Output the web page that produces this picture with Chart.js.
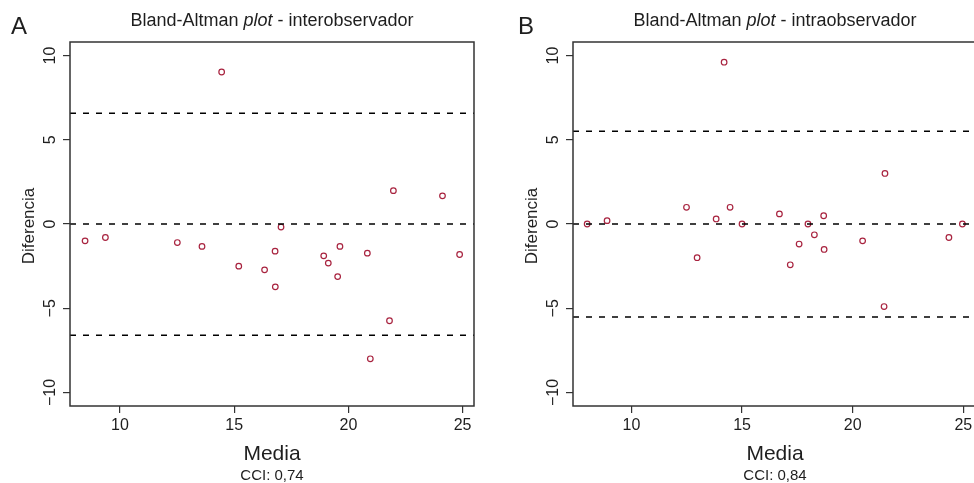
<!DOCTYPE html>
<html>
<head>
<meta charset="utf-8">
<script src="https://cdn.jsdelivr.net/npm/chart.js@4.4.1/dist/chart.umd.min.js"></script>
<style>
  html, body { margin: 0; padding: 0; background: #fff; overflow: hidden; }
  body { width: 974px; height: 483px; position: relative; }
  canvas { position: absolute; top: 0; }
  #chartA { left: 0; }
  #chartB { left: 503px; }
</style>
</head>
<body>
<canvas id="chartA" width="487" height="483"></canvas>
<canvas id="chartB" width="487" height="483"></canvas>
<script>
// interobservador: media / diferencia for each case
const interMedia = [8.47, 9.36, 12.51, 13.59, 14.45, 15.2, 16.33, 16.79, 16.8, 17.05,
  18.92, 19.12, 19.53, 19.63, 20.83, 20.96, 21.8, 21.97, 24.12, 24.87];
const interDiff = [-1.0, -0.8, -1.1, -1.33, 9.02, -2.5, -2.72, -1.61, -3.73, -0.18,
  -1.89, -2.32, -3.12, -1.33, -1.73, -8.0, -5.74, 1.98, 1.67, -1.81];
const interLimits = [6.57, 0, -6.6];

// intraobservador
const intraMedia = [8.0, 8.9, 12.49, 12.97, 13.83, 14.19, 14.46, 15.0, 16.69, 17.18,
  17.58, 17.98, 18.27, 18.69, 18.71, 20.45, 21.42, 21.46, 24.35, 24.96];
const intraDiff = [0, 0.2, 0.99, -2.0, 0.3, 9.6, 0.99, 0, 0.6, -2.42,
  -1.19, 0, -0.64, 0.49, -1.51, -1.0, -4.9, 3.0, -0.8, 0];
const intraLimits = [5.5, 0, -5.52];

const yTicks = [-10, -5, 0, 5, 10];
const xTicks = [10, 15, 20, 25];

const FONT = "'Liberation Sans', Arial, Helvetica, sans-serif";
const INK = '#1e1e1e';

// titles, panel letter, rotated y labels and the box around the plot region
const panelDecor = {
  id: 'panelDecor',
  afterDraw(chart, args, opts) {
    const ctx = chart.ctx;
    const area = chart.chartArea;
    const cx = (area.left + area.right) / 2;
    ctx.save();
    ctx.fillStyle = INK;

    ctx.font = '24px ' + FONT;
    ctx.textAlign = 'left';
    ctx.textBaseline = 'alphabetic';
    ctx.fillText(opts.letter, opts.letterX, 34);

    // title with italic "plot"
    const parts = [['Bland-Altman ', 'normal'], ['plot', 'italic'], [' - ' + opts.title, 'normal']];
    let total = 0;
    parts.forEach(p => { ctx.font = p[1] + ' 18px ' + FONT; total += ctx.measureText(p[0]).width; });
    let x = cx - total / 2;
    parts.forEach(p => {
      ctx.font = p[1] + ' 18px ' + FONT;
      ctx.fillText(p[0], x, 26);
      x += ctx.measureText(p[0]).width;
    });

    ctx.textAlign = 'center';
    ctx.font = '21px ' + FONT;
    ctx.fillText('Media', cx, 460);
    ctx.font = '15px ' + FONT;
    ctx.fillText(opts.cci, cx, 480);

    // y tick labels, turned like the axis title
    const ys = chart.scales.y;
    ctx.font = '16px ' + FONT;
    ys.ticks.forEach(t => {
      ctx.save();
      ctx.translate(55, ys.getPixelForValue(t.value));
      ctx.rotate(-Math.PI / 2);
      ctx.fillText(String(t.value).replace('-', '\u2212'), 0, 0);
      ctx.restore();
    });
    ctx.save();
    ctx.font = '17px ' + FONT;
    ctx.translate(34, 226);
    ctx.rotate(-Math.PI / 2);
    ctx.fillText('Diferencia', 0, 0);
    ctx.restore();

    ctx.strokeStyle = '#333';
    ctx.lineWidth = 1.5;
    ctx.strokeRect(area.left, area.top, area.right - area.left, area.bottom - area.top);
    ctx.restore();
  }
};

function buildChart(id, media, diff, limits, xMin, xMax, decor) {
  const points = media.map((m, i) => ({ x: m, y: diff[i] }));
  const lines = limits.map(v => ({
    type: 'line',
    data: [{ x: xMin, y: v }, { x: xMax, y: v }],
    borderColor: '#000',
    borderWidth: 1.4,
    borderDash: [6, 7],
    pointRadius: 0
  }));

  return new Chart(document.getElementById(id), {
    type: 'scatter',
    data: {
      datasets: [...lines, {
        data: points,
        pointStyle: 'circle',
        pointRadius: 2.8,
        borderWidth: 1.2,
        borderColor: '#a8233f',
        backgroundColor: 'rgba(0,0,0,0)'
      }]
    },
    options: {
      responsive: false,
      animation: false,
      events: [],
      layout: { padding: { top: 42, right: 13, left: 0, bottom: 0 } },
      plugins: {
        legend: { display: false },
        tooltip: { enabled: false },
        panelDecor: decor
      },
      scales: {
        x: {
          type: 'linear',
          min: xMin,
          max: xMax,
          afterBuildTicks: s => { s.ticks = xTicks.map(v => ({ value: v })); },
          afterFit: s => { s.height = 77; },
          border: { display: false },
          grid: { drawOnChartArea: false, drawTicks: true, tickLength: 7, color: '#333', lineWidth: 1.2 },
          ticks: { color: INK, font: { family: FONT, size: 16 }, padding: 3, maxRotation: 0 }
        },
        y: {
          type: 'linear',
          min: -10.8,
          max: 10.8,
          afterBuildTicks: s => { s.ticks = yTicks.map(v => ({ value: v })); },
          afterFit: s => { s.width = 70; },
          border: { display: false },
          grid: { drawOnChartArea: false, drawTicks: true, tickLength: 7, color: '#333', lineWidth: 1.2 },
          ticks: { color: 'rgba(0,0,0,0)', font: { family: FONT, size: 16 } }
        }
      }
    },
    plugins: [panelDecor]
  });
}

buildChart('chartA', interMedia, interDiff, interLimits, 7.81, 25.5,
  { letter: 'A', letterX: 11, title: 'interobservador', cci: 'CCI: 0,74' });
buildChart('chartB', intraMedia, intraDiff, intraLimits, 7.36, 25.62,
  { letter: 'B', letterX: 15, title: 'intraobservador', cci: 'CCI: 0,84' });
</script>
</body>
</html>
